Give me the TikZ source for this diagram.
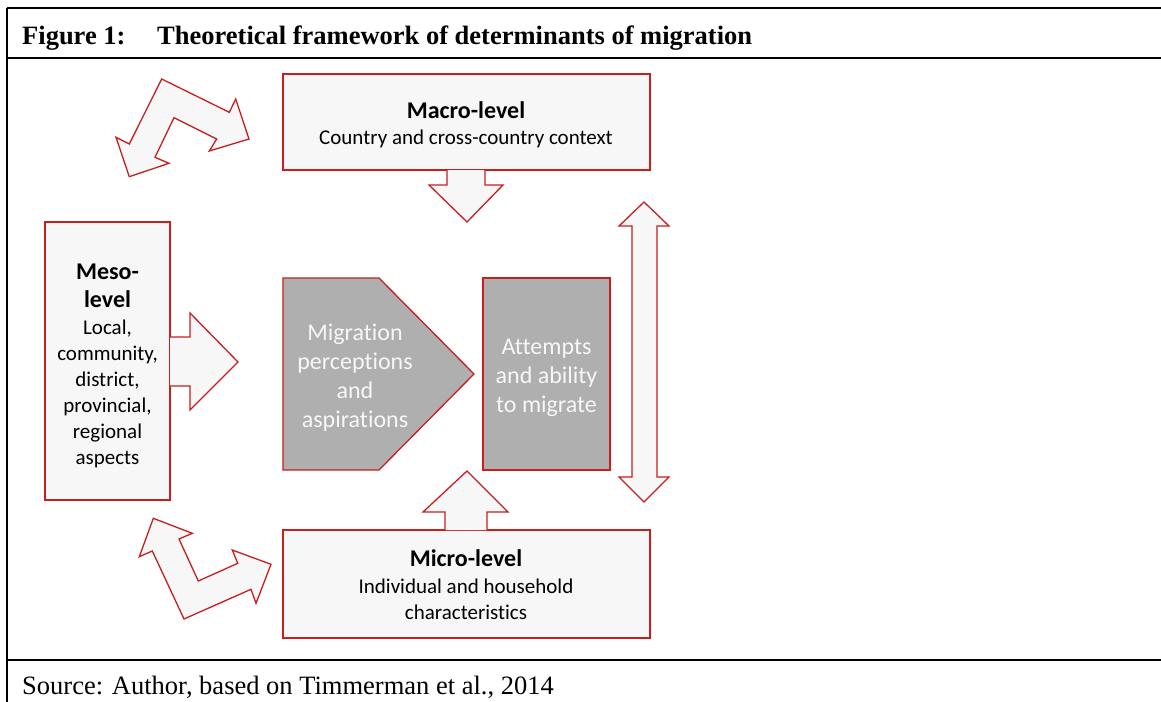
\documentclass[tikz,border=0pt]{standalone}
\usepackage{fontspec}
\setmainfont{Carlito}[Ligatures=NoCommon]
\newfontfamily\timesf{Liberation Serif}
\definecolor{rd}{HTML}{C81E1E}
\definecolor{lt}{HTML}{F7F7F7}
\definecolor{gr}{HTML}{AFAFAF}
\definecolor{wt}{HTML}{F7F7F7}
\tikzset{
  shp/.style={draw=rd, fill=lt, line width=1.3pt, line join=miter},
  gbox/.style={draw=rd, fill=gr, line width=1.3pt},
  frm/.style={draw=black, line width=1.6pt},
  ttl/.style={font=\fontsize{24}{28}\selectfont\bfseries, align=center, inner sep=0pt},
  bdy/.style={font=\fontsize{21}{26}\selectfont, align=center, inner sep=0pt},
  gtx/.style={font=\fontsize{24}{29}\selectfont, align=center, inner sep=0pt, text=wt},
  captxt/.style={font=\timesf\fontsize{26.5}{30}\selectfont, anchor=base west, inner sep=0pt},
  capbold/.style={captxt, font=\timesf\fontsize{26.5}{30}\selectfont\bfseries}
}
\begin{document}
\begin{tikzpicture}[x=1pt,y=-1pt]
\useasboundingbox (0,0) rectangle (1161,701);
% frame
\draw[frm] (7,8) -- (1170,8);
\draw[frm] (7,58) -- (1170,58);
\draw[frm] (7,660) -- (1170,660);
\draw[frm] (7,8) -- (7,710);
\node[capbold] (fig) at (22,45) {Figure 1:};
\node[capbold] (title) at (157,45) {Theoretical framework of determinants of migration};
\node[captxt] (src) at (22,694) {Source: Author, based on Timmerman et al., 2014};

% macro box
\node[shp, minimum width=367pt, minimum height=96pt, inner sep=0pt] (macro) at (466.5,122) {};
\node[ttl] (macroT) at (466,110) {Macro-level};
\node[bdy] (macroB) at (466,139) {Country and cross-country context};
% down arrow from macro
\draw[shp] (447,170) -- (447,185) -- (429,185) -- (467,222) -- (503,185) -- (485,185) -- (485,170);

% meso box
\node[shp, minimum width=125pt, minimum height=278pt, inner sep=0pt] (meso) at (107.5,361) {};
\draw[shp] (170,337) -- (190,337) -- (190,313) -- (238,362) -- (190,410) -- (190,386) -- (170,386);
\node[ttl] (mesoT) at (107.5,286) {Meso-\\level};
\node[bdy] (mesoB) at (107.5,394) {Local,\\community,\\district,\\provincial,\\regional\\aspects};

% central grey shapes
\draw[gbox] (283,278) -- (379,278) -- (474,374) -- (379,470) -- (283,470) -- cycle;
\node[gtx] (perc) at (355,377.5) {Migration\\perceptions\\and\\aspirations};
\node[gbox, minimum width=127pt, minimum height=192pt, inner sep=0pt] (att) at (546.5,374) {};
\node[gtx] (attT) at (546.5,378) {Attempts\\and ability\\to migrate};

% vertical double arrow
\draw[shp] (644,202) -- (669,226) -- (657,226) -- (657,477) -- (669,477) -- (644,502) -- (619,477) -- (632,477) -- (632,226) -- (619,226) -- cycle;

% micro box
\node[shp, minimum width=367pt, minimum height=108pt, inner sep=0pt] (micro) at (466.5,584) {};
\draw[shp] (445,530) -- (445,512) -- (423,512) -- (467,471) -- (508,512) -- (487,512) -- (487,530);
\node[ttl] (microT) at (466,558) {Micro-level};
\node[bdy] (microB) at (466,599) {Individual and household\\characteristics};

% bent arrow top-left
\draw[shp] (161.7,79) -- (229.3,112.3) -- (235.7,99) -- (249,139) -- (209.3,151) -- (216.7,139) -- (174,117.7) -- (155,157.3) -- (169,163.3) -- (129.3,176.7) -- (116,137.3) -- (129.3,144) -- cycle;
% bent arrow bottom-left
\draw[shp] (153.3,518.3) -- (192.3,533.3) -- (179,539) -- (198.3,581) -- (237.7,563.3) -- (232.3,550) -- (271,564.3) -- (256,603.3) -- (251,589.3) -- (184,619) -- (152.3,551) -- (139.3,556.7) -- cycle;
\end{tikzpicture}
\end{document}
